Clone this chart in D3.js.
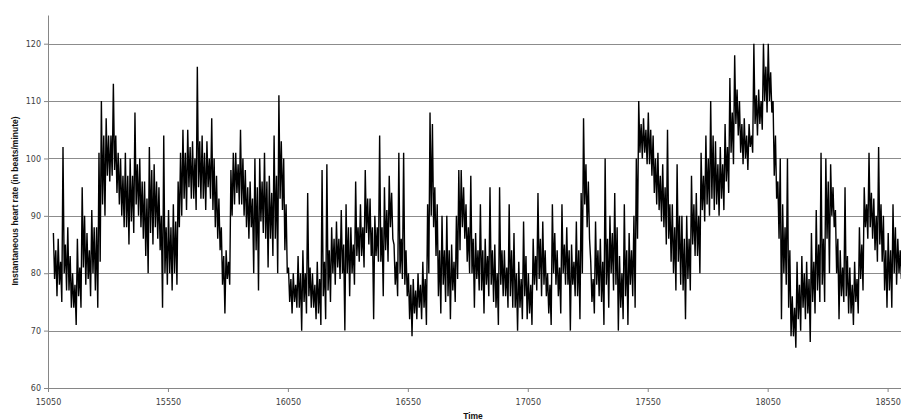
<!DOCTYPE html>
<html>
<head>
<meta charset="utf-8">
<script src="https://cdnjs.cloudflare.com/ajax/libs/d3/7.8.5/d3.min.js"></script>
<style>
    body { margin: 0; background: #fff; }
    .axis text { font-family: "DejaVu Sans", Verdana, sans-serif; font-size: 8px; fill: #404040; }
    .axis path, .axis line { stroke: #868686; }
    .grid line { stroke: #8c8c8c; }
    .title { font-family: "Liberation Sans", Arial, sans-serif; font-weight: bold; font-size: 8.5px; fill: #111; }
</style>
</head>
<body>
<div id="chart-area"></div>
<script>

// Heart rate, one value every 5 time units
var firstTime = 15072.5;
var timeStep = 5;

var heartRate = [
    87,79,84,76, 86,78,82,75, 102,80,85,77, 88,77,83,74, 80,74,78,71,
    86,76,81,74, 95,81,90,78, 87,79,84,76, 91,80,88,77, 88,74,101,82,
    110,92,104,90, 107,97,104,96, 104,97,113,98, 104,94,101,92, 100,90,97,88,
    101,88,97,85, 100,89,97,87, 108,92,99,90, 100,88,96,86, 96,83,93,80,
    102,87,98,85, 99,88,96,86, 95,84,90,74, 104,80,88,78, 91,80,88,77,
    92,80,89,78, 96,88,101,90, 105,93,101,91, 105,95,102,93, 103,93,100,91,
    116,95,103,93, 104,93,101,91, 103,95,100,93, 107,91,100,88, 97,86,93,84,
    88,78,83,73, 84,79,82,78, 98,90,101,92, 101,94,99,92, 105,92,100,90,
    98,88,95,86, 96,88,93,80, 100,84,95,77, 100,89,96,87, 101,86,96,81,
    97,86,94,83, 104,86,97,80, 111,93,103,91, 100,84,92,80, 81,75,79,73,
    80,75,78,74, 83,74,80,70, 84,75,80,73, 94,76,81,74, 80,74,78,72,
    82,73,79,71, 98,76,82,72, 99,77,84,75, 88,80,86,78, 89,81,86,79,
    91,80,85,70, 92,80,88,76, 88,80,85,78, 96,83,88,82, 92,83,88,81,
    98,87,93,85, 93,83,88,72, 90,83,88,82, 104,82,88,76, 95,84,91,82,
    97,88,94,86, 85,78,82,76, 101,80,86,79, 101,78,84,76, 80,72,78,69,
    79,73,77,72, 80,74,78,72, 82,74,79,71, 92,80,108,90, 106,88,95,83,
    92,76,84,73, 90,78,84,75, 90,76,84,72, 85,77,82,75, 90,79,98,84,
    98,88,95,86, 92,82,88,80, 97,80,86,74, 87,79,84,77, 92,77,84,73,
    86,78,83,76, 95,78,84,75, 85,74,80,71, 95,78,84,76, 84,76,81,74,
    92,76,84,74, 87,74,80,70, 82,74,79,72, 89,76,83,72, 80,73,78,71,
    86,78,83,77, 94,79,86,76, 89,78,84,76, 80,73,78,71, 92,80,87,78,
    84,76,81,73, 92,80,85,78, 88,78,84,70, 85,78,82,76, 89,76,84,72,
    94,80,107,92, 99,88,96,86, 82,75,79,73, 89,78,84,76, 86,75,82,71,
    100,78,86,74, 90,80,87,77, 94,78,88,70, 83,74,80,72, 92,76,84,71,
    87,78,84,76, 90,74,100,86, 110,101,106,100, 107,101,105,99, 108,99,105,97,
    104,94,100,92, 101,91,97,89, 99,88,95,85, 105,86,92,82, 92,80,88,77,
    99,82,90,78, 90,77,86,72, 90,79,86,77, 97,85,92,83, 94,83,90,80,
    101,91,97,89, 104,92,100,90, 110,93,104,91, 103,92,99,90, 102,93,99,91,
    106,96,102,94, 114,101,108,99, 118,106,112,104, 110,101,106,99, 107,100,104,98,
    106,102,104,101, 120,106,111,104, 112,106,110,105, 120,110,116,108, 120,110,115,108,
    110,97,104,93, 96,86,100,72, 92,80,88,78, 100,74,84,69, 76,69,74,67,
    82,72,78,70, 83,74,80,72, 82,73,79,68, 87,75,82,73, 91,77,85,75,
    101,78,86,75, 100,86,96,80, 99,90,95,88, 91,80,86,72, 84,76,81,75,
    95,76,83,73, 81,73,78,71, 82,75,79,73, 88,79,85,77, 95,88,92,86,
    101,88,94,86, 93,84,90,82, 102,85,92,82, 90,77,84,74, 87,77,84,74,
    92,80,88,78, 86,80,84,79
];

var timeTicks = [15050, 15550, 16050, 16550, 17050, 17550, 18050, 18550];
var rateTicks = [60, 70, 80, 90, 100, 110, 120];


var width = 901, height = 420;
var margin = { left: 48, top: 15, right: 0, bottom: 32 };

var svg = d3.select("#chart-area").append("svg")
    .attr("width", width)
    .attr("height", height);

// Scales
var x = d3.scaleLinear()
    .domain([15050, 18610])
    .range([margin.left, 902]);

var y = d3.scaleLinear()
    .domain([60, 125])
    .range([height - margin.bottom, margin.top]);

var points = heartRate.map(function(r, i) {
    return { time: firstTime + i * timeStep, rate: r };
});

// Horizontal gridlines
svg.append("g")
    .attr("class", "grid")
    .selectAll("line")
    .data(rateTicks.filter(function(d) { return d > 60; }))
    .enter().append("line")
    .attr("x1", margin.left)
    .attr("x2", width)
    .attr("y1", function(d) { return Math.round(y(d)) + 0.5; })
    .attr("y2", function(d) { return Math.round(y(d)) + 0.5; });

// Axes
var xAxis = d3.axisBottom(x)
    .tickValues(timeTicks)
    .tickFormat(d3.format("d"))
    .tickSize(4)
    .tickSizeOuter(0)
    .tickPadding(7);

var yAxis = d3.axisLeft(y)
    .tickValues(rateTicks)
    .tickSize(4)
    .tickSizeOuter(0)
    .tickPadding(3);

svg.append("g")
    .attr("class", "x-axis axis")
    .attr("transform", "translate(0," + y(60) + ")")
    .call(xAxis);

svg.append("g")
    .attr("class", "y-axis axis")
    .attr("transform", "translate(" + margin.left + ",0)")
    .call(yAxis);

// The series
var line = d3.line()
    .x(function(d) { return x(d.time); })
    .y(function(d) { return y(d.rate); });

svg.append("path")
    .datum(points)
    .attr("d", line)
    .attr("fill", "none")
    .attr("stroke", "#000")
    .attr("stroke-width", 1.4);

// Axis titles
svg.append("text")
    .attr("class", "title")
    .attr("text-anchor", "middle")
    .attr("transform", "translate(18," + 201 + ") rotate(-90)")
    .text("Instantaneous heart rate (in beats/minute)");

svg.append("text")
    .attr("class", "title")
    .attr("text-anchor", "middle")
    .attr("x", 473)
    .attr("y", 419)
    .text("Time");

</script>
</body>
</html>
